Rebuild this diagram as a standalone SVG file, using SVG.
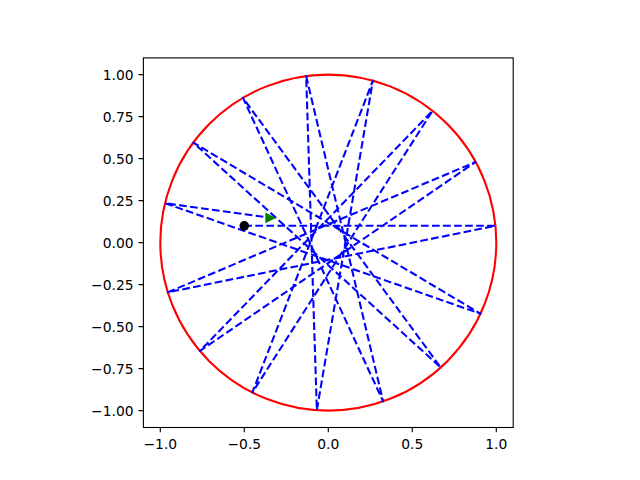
<svg xmlns="http://www.w3.org/2000/svg" width="640" height="480" viewBox="0 0 640 480">
<style>
.tick{stroke:#000;stroke-width:1.11}
.lbl{font-family:"DejaVu Sans",sans-serif;font-size:13.89px;fill:#000}
.xl{text-anchor:middle}
.yl{text-anchor:end}
</style>
<rect x="0" y="0" width="640" height="480" fill="#fff"/>
<g id="boundary">
<circle cx="328.3" cy="242.6" r="168" fill="none" stroke="#ff0000" stroke-width="2.08"/>
</g>
<g id="connectors">
<polyline fill="none" stroke="#0000ff" stroke-width="2.08" stroke-dasharray="7.71 3.33" stroke-linejoin="round" points="244.3,225.8 495.46,225.8 167.83,292.33 475.67,161.93 199.93,350.98 432.53,110.84 252.37,392.46 372.89,80.62 316.84,410.21 306.18,76.06 383.12,401.41 242.97,97.88 440.72,367.45 193.29,142.62 480.51,313.71 164.99,203.20 270.2,217.7"/>
</g>
<g id="start">
<circle cx="244.3" cy="225.8" r="4.8" fill="#000"/>
</g>
<g id="end">
<polygon points="274.4,217.9 266.0,213.7 266.0,222.1" fill="#008000" stroke="#008000" stroke-width="1.39" stroke-linejoin="miter"/>
</g>
<g id="axes">
<rect x="143.4" y="57.9" width="369.8" height="369.6" fill="none" stroke="#000" stroke-width="1.11"/>
<path class="tick" d="M160.3,427.5v4.86M244.3,427.5v4.86M328.3,427.5v4.86M412.3,427.5v4.86M496.3,427.5v4.86"/>
<path class="tick" d="M143.4,74.6h-4.86M143.4,116.6h-4.86M143.4,158.6h-4.86M143.4,200.6h-4.86M143.4,242.6h-4.86M143.4,284.6h-4.86M143.4,326.6h-4.86M143.4,368.6h-4.86M143.4,410.6h-4.86"/>
<text class="lbl xl" x="160.3" y="449">−1.0</text>
<text class="lbl xl" x="244.3" y="449">−0.5</text>
<text class="lbl xl" x="328.3" y="449">0.0</text>
<text class="lbl xl" x="412.3" y="449">0.5</text>
<text class="lbl xl" x="496.3" y="449">1.0</text>
<text class="lbl yl" x="133.6" y="79.6">1.00</text>
<text class="lbl yl" x="133.6" y="121.6">0.75</text>
<text class="lbl yl" x="133.6" y="163.6">0.50</text>
<text class="lbl yl" x="133.6" y="205.6">0.25</text>
<text class="lbl yl" x="133.6" y="247.6">0.00</text>
<text class="lbl yl" x="133.6" y="289.6">−0.25</text>
<text class="lbl yl" x="133.6" y="331.6">−0.50</text>
<text class="lbl yl" x="133.6" y="373.6">−0.75</text>
<text class="lbl yl" x="133.6" y="415.6">−1.00</text>
</g>
</svg>
